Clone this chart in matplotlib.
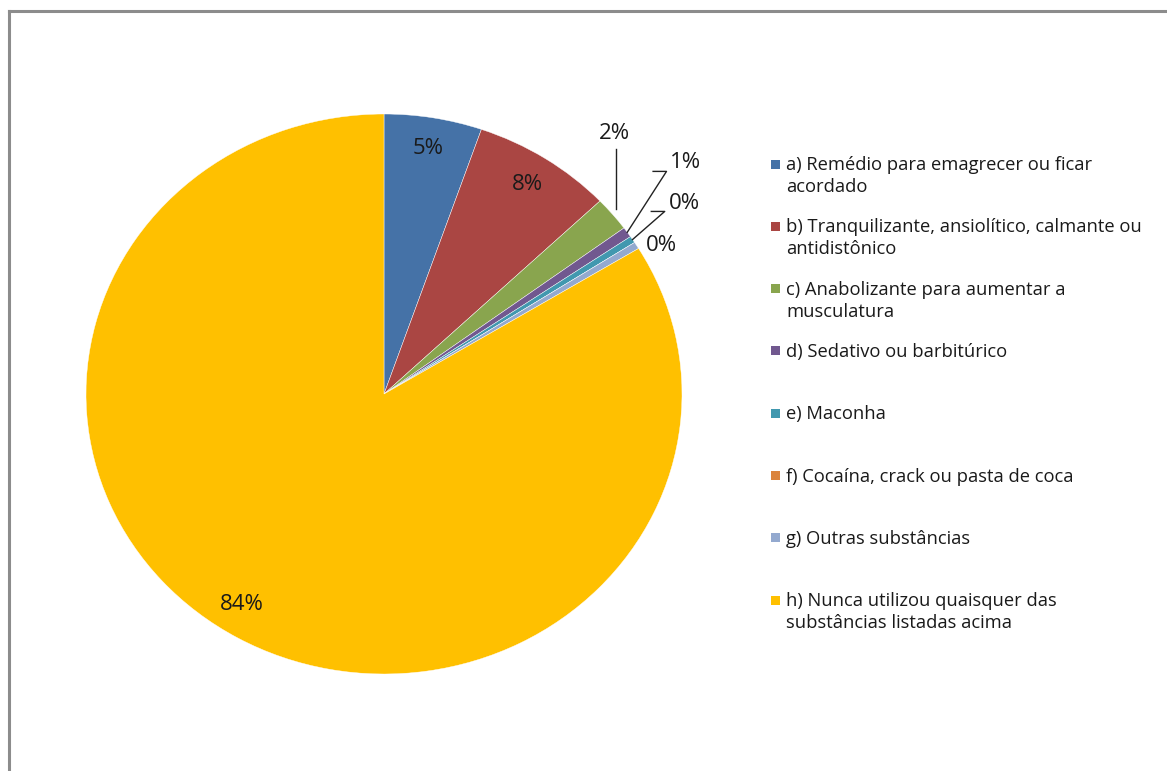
import numpy as np
import matplotlib
matplotlib.use("Agg")
import matplotlib.pyplot as plt
from matplotlib.patches import Rectangle
from matplotlib.lines import Line2D

# shares in percent
categories = [
    "a) Remédio para emagrecer ou ficar\nacordado",
    "b) Tranquilizante, ansiolítico, calmante ou\nantidistônico",
    "c) Anabolizante para aumentar a\nmusculatura",
    "d) Sedativo ou barbitúrico",
    "e) Maconha",
    "f) Cocaína, crack ou pasta de coca",
    "g) Outras substâncias",
    "h) Nunca utilizou quaisquer das\nsubstâncias listadas acima",
]
values = [5.3, 7.6, 2.0, 0.6, 0.4, 0.0, 0.4, 83.7]
colors = ["#4572A7", "#AA4643", "#89A54E", "#71588F",
          "#4198AF", "#DB843D", "#93A9CF", "#FFC000"]

W, H = 1167, 771
fig = plt.figure(figsize=(W / 100, H / 100), dpi=100)
plt.rcParams['font.family'] = ['Open Sans', 'DejaVu Sans']
txt_color = "#1a1a1a"
fs_leg = 13.2
fs_pct = 16

# pie axes: center (384, 394), rx ~298, ry ~280 px
cx, cy, rx, ry = 384, 394, 298, 280
ax = fig.add_axes([(cx - rx) / W, (H - cy - ry) / H, 2 * rx / W, 2 * ry / H])
wedges, _ = ax.pie(values, colors=colors, startangle=90, counterclock=False,
                   wedgeprops=dict(linewidth=0.3, edgecolor="white"))
ax.set_aspect('auto')
ax.set_xlim(-1, 1)
ax.set_ylim(-1, 1)
ax.axis('off')

total = float(sum(values))
cum = np.cumsum([0] + values)
mid_deg = [(cum[i] + values[i] / 2) / total * 360 for i in range(len(values))]


def pol(angle_deg, r):
    # angle measured clockwise from top
    a = np.radians(angle_deg)
    return r * np.sin(a), r * np.cos(a)


def pct(v):
    return f"{round(v):.0f}%"


# labels inside the big slices (the big one sits a bit further round)
for i, shift in ((0, 0), (1, 0), (7, 3)):
    x, y = pol(mid_deg[i] + shift, 0.89)
    ax.text(x, y, pct(values[i]), ha='center', va='center', fontsize=fs_pct, color=txt_color)

# labels outside the small slices, with leader lines
# c) straight vertical leader
x0, y0 = pol(mid_deg[2], 1.0)
ax.text(0.772, 0.932, pct(values[2]), ha='center', va='center', fontsize=fs_pct, color=txt_color)
ax.add_line(Line2D([0.778, 0.778], [0.875, y0 + 0.02], color="#222222", lw=1))

# d) and e) elbow leaders
for i, (tx, ty) in ((3, (1.013, 0.825)), (4, (1.007, 0.682))):
    ex, ey = pol(mid_deg[i], 1.0)
    ax.text(tx, ty, pct(values[i]), ha='center', va='center', fontsize=fs_pct, color=txt_color)
    ax.add_line(Line2D([ex, tx - 0.065, tx - 0.11], [ey, ty - 0.03, ty - 0.03],
                       color="#222222", lw=1, clip_on=False))

# g) no leader
ax.text(0.93, 0.529, pct(values[6]), ha='center', va='center', fontsize=fs_pct, color=txt_color)

# manual legend: one entry every ~62 px
lx, ly0, step = 771, 164, 62.3
for k, (lab, col) in enumerate(zip(categories, colors)):
    yc = ly0 + k * step
    fig.add_artist(Rectangle(((lx) / W, (H - yc - 4.5) / H), 9 / W, 9 / H,
                             transform=fig.transFigure, facecolor=col, edgecolor='none'))
    fig.text((lx + 15) / W, (H - yc + 8) / H, lab, ha='left', va='top',
             fontsize=fs_leg, color=txt_color, linespacing=1.28)

# chart area border (only left and top visible)
border = "#8c8c8c"
fig.add_artist(Line2D([9 / W, 9 / W], [0, (H - 11) / H], transform=fig.transFigure,
                      color=border, lw=2.2))
fig.add_artist(Line2D([9 / W, 1], [(H - 11) / H, (H - 11) / H], transform=fig.transFigure,
                      color=border, lw=2.2))

fig.savefig("out.png", dpi=100)
